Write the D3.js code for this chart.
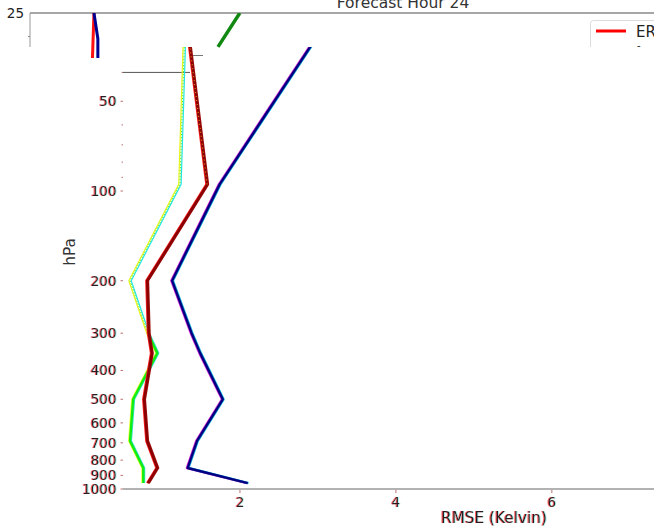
<!DOCTYPE html>
<html>
<head>
<meta charset="utf-8">
<script src="https://cdn.jsdelivr.net/npm/d3@7"></script>
<style>
  html, body { margin: 0; padding: 0; background: #fff; }
  svg { display: block; font-family: "DejaVu Sans", sans-serif; }
</style>
</head>
<body>
<svg id="chart" width="654" height="527"></svg>
<script>
// Pressure levels (hPa) and RMSE (K) per series
const levels    = [955, 850, 690, 500, 350, 300, 200, 95, 30];
const rmseGreen = [0.76, 0.76, 0.59, 0.63, 0.94, 0.82, 0.59, 1.23, 1.29];
const rmseRed   = [0.82, 0.94, 0.81, 0.77, 0.87, 0.83, 0.81, 1.58, 1.34];
const rmseNavy  = [2.10, 1.33, 1.45, 1.78, 1.49, 1.38, 1.13, 1.74, 3.00];

// Tick labels
const yMajorTicks = [50, 100, 200, 300, 400, 500, 600, 700, 800, 900, 1000];
const yMinorTicks = [40, 60, 70, 80, 90];
const xTicks = [2, 4, 6];

// Upper strip (top of the pressure range)
const stripLevelsRed  = [25, 36];
const stripRed        = [0.82, 0.80];
const stripLevelsNavy = [25, 30.5, 36];
const stripNavy       = [0.82, 0.87, 0.87];
const stripLevelsGreen = [25, 32.5];
const stripGreen       = [2.69, 2.41];

const title = "Forecast Hour 24";
const legendLabels = ["ER", "-"];

const svg = d3.select("#chart");

// colour-fringe filter for axis text (thin red edge left, faint cyan edge right)
const defs = svg.append("defs");
const f = defs.append("filter").attr("id", "fringe")
  .attr("x", "-20%").attr("y", "-20%").attr("width", "140%").attr("height", "140%");
f.append("feOffset").attr("in", "SourceAlpha").attr("dx", -0.6).attr("dy", 0).attr("result", "offL");
f.append("feFlood").attr("flood-color", "#ff2020").attr("flood-opacity", 0.7).attr("result", "red");
f.append("feComposite").attr("in", "red").attr("in2", "offL").attr("operator", "in").attr("result", "redL");
f.append("feOffset").attr("in", "SourceAlpha").attr("dx", 0.6).attr("dy", 0).attr("result", "offR");
f.append("feFlood").attr("flood-color", "#20d0d0").attr("flood-opacity", 0.35).attr("result", "cyan");
f.append("feComposite").attr("in", "cyan").attr("in2", "offR").attr("operator", "in").attr("result", "cyanR");
const fm = f.append("feMerge");
fm.append("feMergeNode").attr("in", "redL");
fm.append("feMergeNode").attr("in", "cyanR");
fm.append("feMergeNode").attr("in", "SourceGraphic");

// ---------- main panel ----------
const x = d3.scaleLinear().domain([0.5, 7.31]).range([123, 654]);
const y = d3.scaleLog().domain([1000, 100]).range([489, 191]);

defs.append("clipPath").attr("id", "mainClip")
  .append("rect").attr("x", 123).attr("y", 47).attr("width", 531).attr("height", 442);

const labelFill = "#2a1e20";
function addText(parent, xPos, yPos, txt, opts) {
  const o = Object.assign({anchor: "end", size: 13.5, fill: labelFill, fringe: true}, opts || {});
  const t = parent.append("text").attr("x", xPos).attr("y", yPos)
    .attr("text-anchor", o.anchor).attr("dominant-baseline", "central")
    .attr("font-size", o.size).attr("fill", o.fill).text(txt);
  if (o.fringe) t.attr("filter", "url(#fringe)");
  return t;
}

// y axis (no spine), ticks only
const yAxisG = svg.append("g");
yMajorTicks.forEach(p => {
  yAxisG.append("line").attr("x1", 120.5).attr("x2", 123).attr("y1", y(p)).attr("y2", y(p))
    .attr("stroke", "#c07070").attr("stroke-width", 1);
  addText(yAxisG, 116.5, y(p), String(p));
});
yMinorTicks.forEach(p => {
  yAxisG.append("line").attr("x1", 121.5).attr("x2", 123).attr("y1", y(p)).attr("y2", y(p))
    .attr("stroke", "#c07070").attr("stroke-width", 1);
});
// stray spine fragments near the 40 hPa tick
svg.append("line").attr("x1", 123).attr("x2", 190).attr("y1", y(40)).attr("y2", y(40))
  .attr("stroke", "#555").attr("stroke-width", 1);
svg.append("line").attr("x1", 192).attr("x2", 203).attr("y1", 55.5).attr("y2", 55.5)
  .attr("stroke", "#777").attr("stroke-width", 1);

// x axis
svg.append("line").attr("x1", 123).attr("x2", 654).attr("y1", 489).attr("y2", 489)
  .attr("stroke", "#999").attr("stroke-width", 1.6);
xTicks.forEach(v => {
  svg.append("line").attr("x1", x(v)).attr("x2", x(v)).attr("y1", 490).attr("y2", 493)
    .attr("stroke", "#c07070");
  addText(svg, x(v), 502, String(v), {anchor: "middle"});
});
addText(svg, 494, 518, "RMSE (Kelvin)", {anchor: "middle", size: 15.3});

// y label
const yl = svg.append("g").attr("transform", "translate(70,252) rotate(-90)");
addText(yl, 0, 0, "hPa", {anchor: "middle", size: 15.3, fill: "#333", fringe: false});

// series lines
const lineMain = d3.line().x(d => x(d.v)).y(d => y(d.p));
const toPts = vals => levels.map((p, i) => ({p: p, v: vals[i]}));
const plot = svg.append("g").attr("clip-path", "url(#mainClip)");

function fringed(pts, main, left, right, w) {
  plot.append("path").datum(pts).attr("d", lineMain).attr("transform", "translate(-0.8,0)")
    .attr("fill", "none").attr("stroke", left).attr("stroke-width", w).attr("stroke-linejoin", "round");
  plot.append("path").datum(pts).attr("d", lineMain).attr("transform", "translate(0.8,0)")
    .attr("fill", "none").attr("stroke", right).attr("stroke-width", w).attr("stroke-linejoin", "round");
  plot.append("path").datum(pts).attr("d", lineMain)
    .attr("fill", "none").attr("stroke", main).attr("stroke-width", w).attr("stroke-linejoin", "round");
}

// green: solid below 300 hPa, twin dotted strands above
const greenPts = toPts(rmseGreen);
const gLow = greenPts.filter(d => d.p >= 300);
const gHigh = greenPts.filter(d => d.p <= 300);
fringed(gLow, "#11ee11", "#e8ff30", "#30e0d0", 2.4);
plot.append("path").datum(gHigh).attr("d", lineMain).attr("transform", "translate(-1.2,0)")
  .attr("fill", "none").attr("stroke", "#e6f51a").attr("stroke-width", 1.2);
plot.append("path").datum(gHigh).attr("d", lineMain).attr("transform", "translate(1.2,0)")
  .attr("fill", "none").attr("stroke", "#22e6e6").attr("stroke-width", 1.2);
plot.append("path").datum(gHigh).attr("d", lineMain)
  .attr("fill", "none").attr("stroke", "#55ee22").attr("stroke-width", 1).attr("stroke-dasharray", "1.5,1.5");

// red
fringed(toPts(rmseRed), "#8b0000", "#ff2020", "#a01010", 2.4);
plot.append("path").datum(toPts(rmseRed).filter(d => d.p <= 95)).attr("d", lineMain)
  .attr("fill", "none").attr("stroke", "#f0e020").attr("stroke-width", 0.8).attr("stroke-dasharray", "1,3");

// navy
fringed(toPts(rmseNavy), "#000080", "#d020d0", "#20c0e0", 2.4);

// ---------- upper strip ----------
const xs = d3.scaleLinear().domain([0, 8]).range([30, 654]);
const ys = d3.scaleLog().domain([25, 35]).range([13, 56.5]);
const lineStrip = d3.line().x(d => xs(d.v)).y(d => ys(d.p));

defs.append("clipPath").attr("id", "stripClip")
  .append("rect").attr("x", 30).attr("y", 13).attr("width", 624).attr("height", 45);

// title
svg.append("text").attr("x", 403).attr("y", 7.5).attr("text-anchor", "middle")
  .attr("font-size", 15.5).attr("fill", "#333").text(title);

svg.append("line").attr("x1", 30).attr("x2", 654).attr("y1", 13).attr("y2", 13)
  .attr("stroke", "#888").attr("stroke-width", 1.3);
svg.append("line").attr("x1", 30).attr("x2", 30).attr("y1", 13).attr("y2", 47)
  .attr("stroke", "#999").attr("stroke-width", 1);
svg.append("line").attr("x1", 28).attr("x2", 30).attr("y1", ys(30)).attr("y2", ys(30))
  .attr("stroke", "#888");
svg.append("text").attr("x", 24).attr("y", 13).attr("text-anchor", "end")
  .attr("dominant-baseline", "central").attr("font-size", 13.5).attr("fill", "#222").text("25");

const strip = svg.append("g").attr("clip-path", "url(#stripClip)");
strip.append("path").datum(stripLevelsRed.map((p, i) => ({p: p, v: stripRed[i]})))
  .attr("d", lineStrip).attr("fill", "none").attr("stroke", "#ff1010").attr("stroke-width", 3);
strip.append("path").datum(stripLevelsNavy.map((p, i) => ({p: p, v: stripNavy[i]})))
  .attr("d", lineStrip).attr("fill", "none").attr("stroke", "#000090").attr("stroke-width", 3);
strip.append("path").datum(stripLevelsGreen.map((p, i) => ({p: p, v: stripGreen[i]})))
  .attr("d", lineStrip).attr("fill", "none").attr("stroke", "#118811").attr("stroke-width", 3.5);

// legend (cut off at the strip's lower edge)
defs.append("clipPath").attr("id", "legClip")
  .append("rect").attr("x", 585).attr("y", 15).attr("width", 69).attr("height", 32);
const leg = svg.append("g").attr("clip-path", "url(#legClip)");
leg.append("rect").attr("x", 590.5).attr("y", 20.5).attr("width", 90).attr("height", 60)
  .attr("rx", 3).attr("fill", "#fff").attr("stroke", "#dcdcdc");
leg.append("line").attr("x1", 596).attr("x2", 626).attr("y1", 31).attr("y2", 31)
  .attr("stroke", "#ff0000").attr("stroke-width", 3);
leg.append("text").attr("x", 636).attr("y", 37).attr("font-size", 15).attr("fill", "#222").text(legendLabels[0]);
leg.append("text").attr("x", 637).attr("y", 49).attr("font-size", 10).attr("fill", "#222").text(legendLabels[1]);
</script>
</body>
</html>
